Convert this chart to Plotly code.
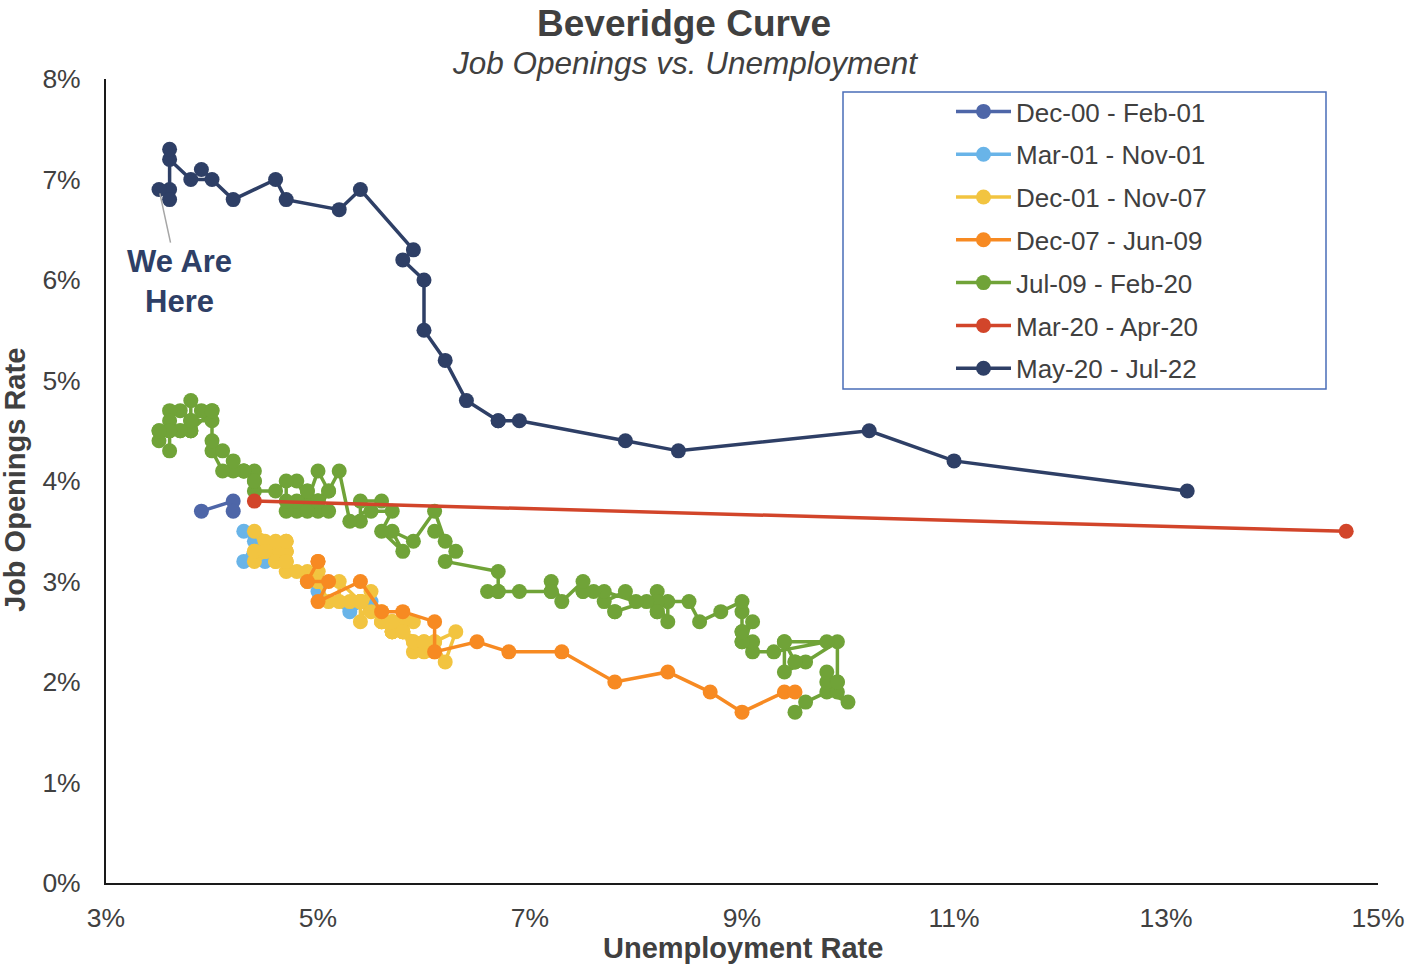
import plotly.graph_objects as go

# ---------------- data (unemployment rate %, job openings rate %) ----------------
names = ["Dec-00 - Feb-01", "Mar-01 - Nov-01", "Dec-01 - Nov-07", "Dec-07 - Jun-09",
         "Jul-09 - Feb-20", "Mar-20 - Apr-20", "May-20 - Jul-22"]
colors = ["#4E66A8", "#69B4E8", "#F2C440", "#F78A22", "#70A338", "#D2452A", "#2E3F66"]

u1 = [3.9, 4.2, 4.2]
j1 = [3.7, 3.8, 3.7]

u2 = [4.3, 4.4, 4.3, 4.5, 4.6, 4.9, 5.0, 5.3, 5.5]
j2 = [3.5, 3.4, 3.2, 3.2, 3.3, 3.0, 2.9, 2.7, 2.8]

u3 = [5.7,
      5.7, 5.7, 5.7, 5.9, 5.8, 5.8, 5.8, 5.7, 5.7, 5.7, 5.9, 6.0,
      5.8, 5.9, 5.9, 6.0, 6.1, 6.3, 6.2, 6.1, 6.1, 6.0, 5.8, 5.7,
      5.7, 5.6, 5.8, 5.6, 5.6, 5.6, 5.5, 5.4, 5.4, 5.5, 5.4, 5.4,
      5.3, 5.4, 5.2, 5.2, 5.1, 5.0, 5.0, 4.9, 5.0, 5.0, 5.0, 4.9,
      4.7, 4.8, 4.7, 4.7, 4.6, 4.6, 4.7, 4.7, 4.5, 4.4, 4.5, 4.4,
      4.6, 4.5, 4.4, 4.5, 4.4, 4.6, 4.7, 4.6, 4.7, 4.7, 4.7]
j3 = [2.6,
      2.6, 2.5, 2.5, 2.6, 2.6, 2.5, 2.5, 2.6, 2.5, 2.5, 2.4, 2.4,
      2.5, 2.3, 2.4, 2.3, 2.4, 2.5, 2.2, 2.4, 2.3, 2.4, 2.5, 2.5,
      2.6, 2.6, 2.5, 2.6, 2.7, 2.6, 2.7, 2.8, 2.6, 2.9, 2.8, 2.8,
      2.8, 2.8, 3.0, 2.8, 2.8, 3.0, 3.0, 3.0, 3.1, 3.1, 3.0, 3.1,
      3.1, 3.1, 3.2, 3.3, 3.3, 3.2, 3.3, 3.3, 3.3, 3.3, 3.4, 3.2,
      3.3, 3.3, 3.3, 3.3, 3.5, 3.4, 3.4, 3.2, 3.2, 3.4, 3.2]

u4 = [5.0, 5.0, 4.9, 5.1, 5.0, 5.4, 5.6, 5.8, 6.1, 6.1, 6.5, 6.8, 7.3, 7.8, 8.3, 8.7, 9.0, 9.4, 9.5]
j4 = [3.2, 3.2, 3.0, 3.0, 2.8, 3.0, 2.7, 2.7, 2.6, 2.3, 2.4, 2.3, 2.3, 2.0, 2.1, 1.9, 1.7, 1.9, 1.9]

u5 = [9.5, 9.6, 9.8, 10.0, 9.9, 9.9,
      9.8, 9.8, 9.9, 9.9, 9.6, 9.4, 9.4, 9.5, 9.5, 9.4, 9.8, 9.3,
      9.1, 9.0, 9.0, 9.1, 9.0, 9.1, 9.0, 9.0, 9.0, 8.8, 8.6, 8.5,
      8.3, 8.3, 8.2, 8.2, 8.2, 8.2, 8.2, 8.1, 7.8, 7.8, 7.7, 7.9,
      8.0, 7.7, 7.5, 7.6, 7.5, 7.5, 7.3, 7.2, 7.2, 7.2, 6.9, 6.7,
      6.6, 6.7, 6.7, 6.2, 6.3, 6.1, 6.2, 6.1, 5.9, 5.7, 5.8, 5.6,
      5.7, 5.5, 5.4, 5.4, 5.6, 5.3, 5.2, 5.1, 5.0, 5.0, 5.1, 5.0,
      4.8, 4.9, 5.0, 5.1, 4.8, 4.9, 4.8, 4.9, 5.0, 4.9, 4.7, 4.7,
      4.7, 4.6, 4.4, 4.4, 4.4, 4.3, 4.3, 4.4, 4.3, 4.2, 4.2, 4.1,
      4.0, 4.1, 4.0, 4.0, 3.8, 4.0, 3.8, 3.8, 3.7, 3.8, 3.8, 3.9,
      4.0, 3.8, 3.8, 3.7, 3.6, 3.6, 3.7, 3.6, 3.5, 3.6, 3.6, 3.6,
      3.5, 3.5]
j5 = [1.7, 1.8, 1.9, 1.8, 1.9, 2.0,
      2.0, 2.1, 2.0, 2.4, 2.2, 2.1, 2.4, 2.2, 2.2, 2.4, 2.4, 2.3,
      2.3, 2.4, 2.5, 2.4, 2.4, 2.6, 2.5, 2.7, 2.8, 2.7, 2.6, 2.8,
      2.8, 2.6, 2.8, 2.7, 2.9, 2.8, 2.7, 2.8, 2.7, 2.7, 2.8, 2.9,
      2.8, 2.9, 2.9, 2.9, 2.9, 3.0, 2.8, 3.0, 2.9, 2.9, 2.9, 2.9,
      2.9, 2.9, 3.1, 3.2, 3.3, 3.5, 3.4, 3.7, 3.4, 3.5, 3.3, 3.5,
      3.7, 3.7, 3.6, 3.8, 3.8, 3.6, 4.1, 3.9, 3.7, 3.8, 3.7, 3.8,
      4.0, 3.8, 4.1, 3.9, 3.7, 3.9, 3.8, 3.7, 3.8, 3.9, 3.7, 3.8,
      4.0, 3.9, 3.9, 4.0, 4.1, 4.1, 4.1, 4.0, 4.1, 4.1, 4.2, 4.1,
      4.3, 4.3, 4.4, 4.6, 4.6, 4.7, 4.5, 4.6, 4.5, 4.5, 4.8, 4.7,
      4.7, 4.5, 4.6, 4.7, 4.7, 4.6, 4.5, 4.5, 4.5, 4.5, 4.3, 4.5,
      4.4, 4.5]

u6 = [4.4, 14.7]
j6 = [3.8, 3.5]

u7 = [13.2, 11.0, 10.2, 8.4, 7.9, 6.9, 6.7, 6.7,
      6.4, 6.2, 6.0, 6.0, 5.8, 5.9, 5.4, 5.2, 4.7, 4.6, 4.2, 3.9,
      4.0, 3.8, 3.6, 3.6, 3.6, 3.6, 3.5]
j7 = [3.9, 4.2, 4.5, 4.3, 4.4, 4.6, 4.6, 4.6,
      4.8, 5.2, 5.5, 6.0, 6.2, 6.3, 6.9, 6.7, 6.8, 7.0, 6.8, 7.1,
      7.0, 7.0, 7.2, 7.3, 6.9, 6.8, 6.9]

x_ticks = [3, 5, 7, 9, 11, 13, 15]
y_ticks = [0, 1, 2, 3, 4, 5, 6, 7, 8]

series_u = [u1, u2, u3, u4, u5, u6, u7]
series_j = [j1, j2, j3, j4, j5, j6, j7]

FONT = "Liberation Sans, Arial, sans-serif"
TXT = "#404040"

fig = go.Figure()
for i, (nm, c, uu, jj) in enumerate(zip(names, colors, series_u, series_j)):
    fig.add_trace(go.Scatter(
        x=uu, y=jj, name=nm, mode="lines+markers",
        line=dict(color=c, width=3.5),
        marker=dict(color=c, size=15, line=dict(width=0)),
        legendgroup=f"g{i}", cliponaxis=False,
    ))

W, H = 1411, 968
L, R, T, B = 106, 33, 79, 85
pw, ph = W - L - R, H - T - B

def px(xp):
    return (xp - L) / pw

def py(yp):
    return (H - B - yp) / ph

fig.update_layout(
    width=W, height=H,
    margin=dict(l=L, r=R, t=T, b=B, autoexpand=False),
    plot_bgcolor="white", paper_bgcolor="white",
    font=dict(family=FONT, color=TXT, size=24),
    showlegend=True,
    legend=dict(
        x=px(951), y=py(88), xanchor="left", yanchor="top",
        bgcolor="rgba(0,0,0,0)", borderwidth=0,
        font=dict(family=FONT, size=26, color=TXT),
        traceorder="grouped", tracegroupgap=6,
        itemwidth=55,
    ),
    xaxis=dict(
        range=[3, 15], tickmode="array", tickvals=x_ticks,
        ticktext=[f"{v}%" for v in x_ticks],
        showgrid=False, zeroline=False, showline=True,
        linecolor="#1a1a1a", linewidth=2, ticks="",
        ticklabelstandoff=10,
        tickfont=dict(family=FONT, size=26.5, color=TXT),
    ),
    yaxis=dict(
        range=[0, 8], tickmode="array", tickvals=y_ticks,
        ticktext=[f"{v}%" for v in y_ticks],
        showgrid=False, zeroline=False, showline=True,
        linecolor="#1a1a1a", linewidth=2, ticks="",
        ticklabelstandoff=18,
        tickfont=dict(family=FONT, size=26.5, color=TXT),
    ),
    shapes=[dict(
        type="rect", xref="paper", yref="paper",
        x0=px(843), x1=px(1326), y0=py(389), y1=py(92),
        line=dict(color="#4A6DB8", width=1.5), fillcolor="rgba(0,0,0,0)",
    )],
    annotations=[
        dict(text="<b>Beveridge Curve</b>", xref="paper", yref="paper",
             x=px(684), y=py(23), xanchor="center", yanchor="middle",
             showarrow=False, font=dict(family=FONT, size=37, color=TXT)),
        dict(text="<i>Job Openings vs. Unemployment</i>", xref="paper", yref="paper",
             x=px(685), y=py(63), xanchor="center", yanchor="middle",
             showarrow=False, font=dict(family=FONT, size=31.5, color=TXT)),
        dict(text="<b>Unemployment Rate</b>", xref="paper", yref="paper",
             x=px(743), y=py(948), xanchor="center", yanchor="middle",
             showarrow=False, font=dict(family=FONT, size=29, color=TXT)),
        dict(text="<b>Job Openings Rate</b>", xref="paper", yref="paper",
             x=px(15), y=py(480), xanchor="center", yanchor="middle",
             textangle=-90, showarrow=False,
             font=dict(family=FONT, size=29, color=TXT)),
        dict(text="<b>We Are<br>Here</b>", xref="x", yref="y",
             x=u7[-1], y=j7[-1], ax=20, ay=92, axref="pixel", ayref="pixel",
             showarrow=True, arrowhead=0, arrowwidth=1.5, arrowcolor="#A6A6A6",
             standoff=4, font=dict(family=FONT, size=31, color="#2E3F66")),
    ],
)

fig.write_html("out.html",
               config={"displayModeBar": False},
               post_script="document.body.style.margin='0';document.body.style.padding='0';")
